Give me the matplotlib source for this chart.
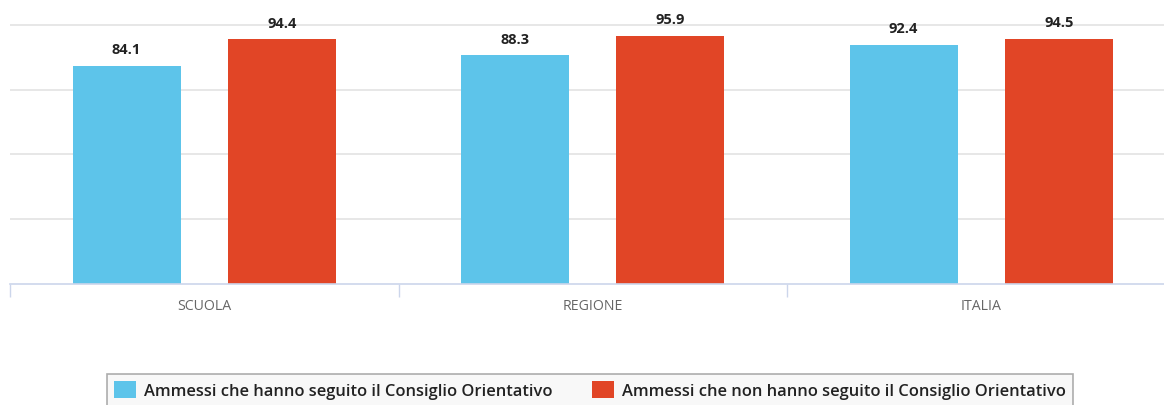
import matplotlib.pyplot as plt
import numpy as np

categories = ["SCUOLA", "REGIONE", "ITALIA"]
seguito = [84.1, 88.3, 92.4]
non_seguito = [94.4, 95.9, 94.5]
series_names = ["Ammessi che hanno seguito il Consiglio Orientativo",
                "Ammessi che non hanno seguito il Consiglio Orientativo"]

plt.rcParams['font.family'] = ['Open Sans', 'DejaVu Sans']

W, H = 1164, 406
fig = plt.figure(figsize=(W / 100, H / 100), dpi=100)
# plot area: left 10px, baseline at 284px
ax = fig.add_axes([10 / W, (H - 285) / H, (W - 10) / W, 285 / H])

x = np.arange(len(categories))
bw = 0.278
off = 0.2
b1 = ax.bar(x - off, seguito, bw, color="#5dc4ea", label=series_names[0])
b2 = ax.bar(x + off, non_seguito, bw, color="#e14526", label=series_names[1])

for bars in (b1, b2):
    for rect in bars:
        ax.annotate(f"{rect.get_height():.1f}",
                    (rect.get_x() + rect.get_width() / 2, rect.get_height()),
                    xytext=(0, 7), textcoords="offset points",
                    ha="center", va="bottom", fontsize=10.5, fontweight="bold",
                    color="#222222")

ax.set_xlim(-0.5, -0.5 + (W - 10) / 388.5)
ax.set_ylim(0, 110)
ax.set_yticks([25, 50, 75, 100])
ax.yaxis.grid(True, color="#e3e3e3", linewidth=1.2)
ax.set_axisbelow(True)
ax.tick_params(axis="y", left=False, labelleft=False)

ax.set_xticks(x)
ax.set_xticklabels(categories, fontsize=10.2, color="#666666")
ax.tick_params(axis="x", length=0, pad=10)
ax.set_xticks([-0.5, 0.5, 1.5], minor=True)
ax.tick_params(axis="x", which="minor", length=9, width=1, color="#ccd6eb")

for s in ("top", "right", "left"):
    ax.spines[s].set_visible(False)
ax.spines["bottom"].set_color("#ccd6eb")
ax.spines["bottom"].set_linewidth(1.2)

leg = fig.legend(loc="upper center", bbox_to_anchor=(590 / W, 1 - 375 / H),
                 ncol=2, frameon=True, fancybox=False, fontsize=11.9,
                 handlelength=1.3, handleheight=1.2, handletextpad=0.5,
                 columnspacing=2.4, borderpad=0.45, borderaxespad=0)
leg.get_frame().set_edgecolor("#999999")
leg.get_frame().set_facecolor("#f7f7f7")
leg.get_frame().set_linewidth(1.2)
for t in leg.get_texts():
    t.set_fontweight("semibold")
    t.set_color("#222222")

fig.savefig("out.png", dpi=100)
